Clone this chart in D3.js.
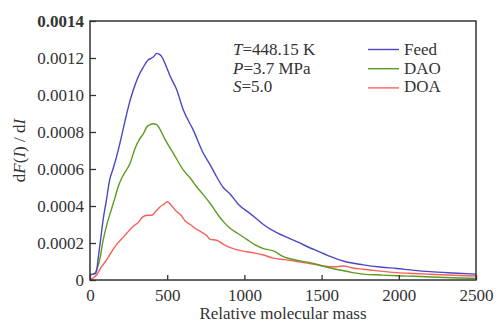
<!DOCTYPE html>
<html><head><meta charset="utf-8">
<script src="https://cdn.jsdelivr.net/npm/d3@7/dist/d3.min.js"></script>
<style>body{margin:0;background:#fff;}svg{display:block;font-family:"Liberation Serif","Times New Roman",serif;}</style>
</head><body><svg id="c" width="496" height="322"></svg>
<script>
const xTicks = [0, 500, 1000, 1500, 2000, 2500];
const xTickLabels = ["0", "500", "1000", "1500", "2000", "2500"];
const yTicks = [0, 0.0002, 0.0004, 0.0006, 0.0008, 0.0010, 0.0012, 0.0014];
const yTickLabels = ["0", "0.0002", "0.0004", "0.0006", "0.0008", "0.0010", "0.0012", "0.0014"];
const seriesNames = ["Feed", "DAO", "DOA"];
const feedX = [0,20,35,45,52,69,84,106,127,149,170,194,227,250,270,290,313,345,378,400,415,432,450,470,486,520,561,604,669,734,780,820,863,907,960,1036,1080,1123,1200,1250,1339,1450,1554,1650,1770,1880,1986,2100,2202,2350,2500];
const feedY = [0.00003,0.000032,0.000035,0.00006,0.00011,0.00022,0.00032,0.00043,0.00054,0.0006,0.00066,0.00074,0.00086,0.00094,0.001,0.00105,0.0011,0.00115,0.00119,0.0012,0.00121,0.001225,0.00122,0.0012,0.00117,0.0011,0.00103,0.00092,0.00081,0.000685,0.00062,0.000558,0.0005,0.000465,0.00041,0.00036,0.00033,0.0003,0.00026,0.00024,0.000207,0.000165,0.000128,0.0001,0.000082,0.00007,0.000062,0.000052,0.000045,0.000038,0.000032];
const daoX = [0,20,30,45,63,84,106,138,160,181,205,225,259,291,320,345,370,389,410,432,450,486,540,604,650,691,735,777,831,870,907,960,1015,1070,1123,1187,1252,1350,1446,1530,1619,1700,1770,1880,1986,2100,2250,2400,2500];
const daoY = [0.00003,0.000032,0.000036,0.00006,0.00011,0.00021,0.00029,0.00038,0.00044,0.0005,0.00055,0.00058,0.00063,0.00071,0.00076,0.00079,0.00083,0.00084,0.000845,0.00084,0.00082,0.00076,0.000685,0.000595,0.00055,0.000504,0.00046,0.000415,0.00035,0.00031,0.00028,0.00025,0.00022,0.00019,0.00017,0.000157,0.000126,0.000105,0.00009,0.00007,0.000054,0.00004,0.000032,0.000027,0.000023,0.00002,0.000015,0.000011,0.000009];
const doaX = [0,19,45,73,100,138,170,203,235,267,291,311,340,370,399,425,453,480,500,530,561,590,615,650,680,720,756,777,820,870,928,970,1015,1070,1123,1187,1260,1339,1450,1554,1600,1641,1700,1770,1880,1986,2100,2202,2350,2500];
const doaY = [0,0.00001,0.00003,0.00007,0.0001,0.00015,0.00019,0.00022,0.00025,0.00028,0.000297,0.00031,0.00034,0.00035,0.00035,0.00037,0.000395,0.00041,0.000423,0.0004,0.00037,0.00035,0.00032,0.0003,0.00028,0.00026,0.00024,0.00022,0.000215,0.00019,0.00017,0.00016,0.000153,0.000145,0.000135,0.000118,0.00011,0.0001,0.000085,0.000072,0.000072,0.000076,0.000065,0.000058,0.000048,0.00004,0.000035,0.000031,0.000026,0.000022];
const colors = ["#4b47c4", "#5c9c22", "#f8605c"];

const W = 496, H = 322, m = {l: 90, t: 21, r: 20, b: 42};
const svg = d3.select("#c");
const x = d3.scaleLinear().domain([0, 2500]).range([m.l, W - m.r]);
const y = d3.scaleLinear().domain([0, 0.0014]).range([H - m.b, m.t]);
const ink = "#333";

const series = [
  {name: seriesNames[0], xs: feedX, ys: feedY, c: colors[0]},
  {name: seriesNames[1], xs: daoX, ys: daoY, c: colors[1]},
  {name: seriesNames[2], xs: doaX, ys: doaY, c: colors[2]}
];
const line = d3.line().x(d => x(d[0])).y(d => y(d[1])).curve(d3.curveMonotoneX);
const plot = svg.append("g");
plot.append("defs").append("clipPath").attr("id", "clp").append("rect")
  .attr("x", m.l).attr("y", m.t).attr("width", W - m.l - m.r).attr("height", H - m.t - m.b);
series.slice().reverse().forEach(s => {
  plot.append("path").attr("clip-path", "url(#clp)")
    .attr("d", line(s.xs.map((v, i) => [v, s.ys[i]])))
    .attr("fill", "none").attr("stroke", s.c).attr("stroke-width", 1.4);
});

// axes
const xAxis = d3.axisBottom(x).tickValues(xTicks).tickSizeInner(-5).tickSizeOuter(0).tickPadding(9)
  .tickFormat((d, i) => xTickLabels[i]);
const gx = svg.append("g").attr("transform", `translate(0,${H - m.b})`).call(xAxis);
const yAxis = d3.axisLeft(y).tickValues(yTicks).tickSizeInner(-6).tickSizeOuter(0).tickPadding(6)
  .tickFormat((d, i) => yTickLabels[i]);
const gy = svg.append("g").attr("transform", `translate(${m.l},0)`).call(yAxis);
[gx, gy].forEach(g => {
  g.select(".domain").remove();
  g.selectAll("line").attr("stroke", ink).attr("stroke-width", 1.3);
  g.selectAll("text").attr("fill", ink).style("font-size", "17px").style("font-family", '"Liberation Serif", serif');
});
gx.selectAll("text").attr("dy", "0.71em");
gy.selectAll("text").filter((d, i) => i === yTicks.length - 1).style("font-weight", "bold");

// frame
svg.append("rect").attr("x", m.l).attr("y", m.t).attr("width", W - m.l - m.r).attr("height", H - m.t - m.b)
  .attr("fill", "none").attr("stroke", ink).attr("stroke-width", 1.5);

// axis titles
svg.append("text").attr("x", (m.l + W - m.r) / 2).attr("y", 319).attr("text-anchor", "middle")
  .attr("fill", ink).style("font-size", "17px").text("Relative molecular mass");
const yl = svg.append("text").attr("transform", `translate(25,${(m.t + H - m.b) / 2}) rotate(-90)`)
  .attr("text-anchor", "middle").attr("fill", ink).style("font-size", "17px");
yl.append("tspan").text("d");
yl.append("tspan").style("font-style", "italic").text("F");
yl.append("tspan").text("(");
yl.append("tspan").style("font-style", "italic").text("I");
yl.append("tspan").text(") / d");
yl.append("tspan").style("font-style", "italic").text("I");

// conditions
const cond = [["T", "=448.15 K"], ["P", "=3.7 MPa"], ["S", "=5.0"]];
cond.forEach((c, i) => {
  const t = svg.append("text").attr("x", 233).attr("y", 55 + i * 18.5).attr("fill", ink).style("font-size", "17px");
  t.append("tspan").style("font-style", "italic").text(c[0]);
  t.append("tspan").text(c[1]);
});

// legend
series.forEach((s, i) => {
  const yy = 49.5 + i * 19.2;
  svg.append("line").attr("x1", 368).attr("x2", 399).attr("y1", yy).attr("y2", yy)
    .attr("stroke", s.c).attr("stroke-width", 1.4);
  svg.append("text").attr("x", 404).attr("y", 55 + i * 18.5).attr("fill", ink).style("font-size", "17px").text(s.name);
});
</script></body></html>
